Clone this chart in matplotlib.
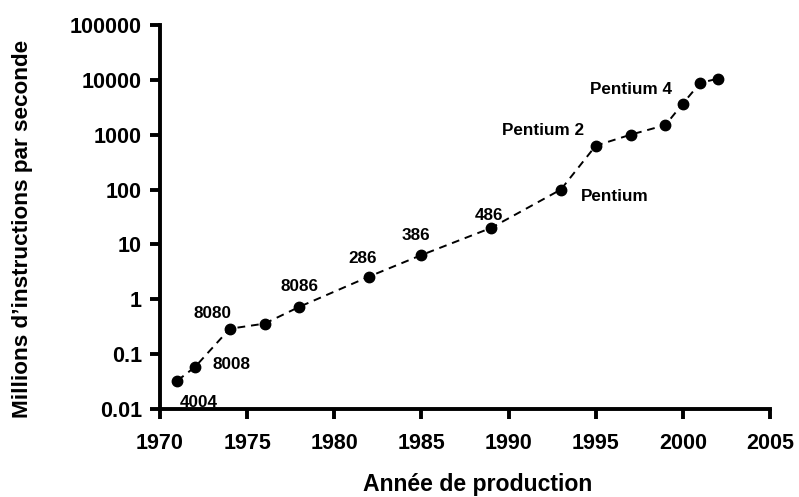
import matplotlib
matplotlib.use("Agg")
import matplotlib.pyplot as plt

# années et performances (MIPS)
years = [1971, 1972, 1974, 1976, 1978, 1982, 1985, 1989, 1993, 1995, 1997, 1999, 2000, 2001, 2002]
mips = [0.033, 0.058, 0.29, 0.36, 0.73, 2.6, 6.4, 20, 100, 630, 1000, 1500, 3700, 8800, 10500]

# étiquettes des processeurs
chip_names = ["4004", "8008", "8080", "8086", "286", "386", "486", "Pentium", "Pentium 2", "Pentium 4"]
chip_x = [1972.2, 1974.1, 1973.0, 1978.0, 1981.6, 1984.7, 1988.9, 1996.1, 1992.0, 1997.0]
chip_y = [0.0134, 0.066, 0.54, 1.74, 5.6, 14.8, 34, 76, 1200, 6700]

xticks = [1970, 1975, 1980, 1985, 1990, 1995, 2000, 2005]
yticks = [0.01, 0.1, 1, 10, 100, 1000, 10000, 100000]
ytick_labels = ["0.01", "0.1", "1", "10", "100", "1000", "10000", "100000"]

plt.rcParams['font.family'] = ['Liberation Sans', 'DejaVu Sans']
plt.rcParams['font.weight'] = 'bold'

fig = plt.figure(figsize=(7.99, 4.97), dpi=100)
ax = fig.add_axes([0.2003, 0.1771, 0.7634, 0.7726])

ax.plot(years, mips, color='black', linestyle=(0, (4, 3)), linewidth=1.4,
        marker='o', markersize=7.5)

for name, x, y in zip(chip_names, chip_x, chip_y):
    ax.text(x, y, name, ha='center', va='center', fontsize=12.3, fontweight='bold')

ax.set_yscale('log')
ax.set_xlim(1970, 2005)
ax.set_ylim(0.01, 100000)
ax.set_xticks(xticks)
ax.set_xticklabels([str(t) for t in xticks])
ax.set_yticks(yticks)
ax.set_yticklabels(ytick_labels)
ax.minorticks_off()

# axes style
for side in ['top', 'right']:
    ax.spines[side].set_visible(False)
for side in ['left', 'bottom']:
    ax.spines[side].set_linewidth(2.8)
ax.tick_params(axis='both', which='major', width=2.8, length=7, labelsize=15.5)
ax.tick_params(axis='x', pad=10)
ax.tick_params(axis='y', pad=6)
for lbl in ax.get_xticklabels() + ax.get_yticklabels():
    lbl.set_fontweight('bold')

ax.set_xlabel("Année de production", fontsize=16.6, fontweight='bold', va='baseline')
ax.xaxis.set_label_coords(0.52, -0.214)
ax.set_ylabel("Millions d\u2019instructions par seconde", fontsize=16.2, fontweight='bold')
ax.yaxis.set_label_coords(-0.208, 0.469)

fig.savefig("out.png", dpi=100)
